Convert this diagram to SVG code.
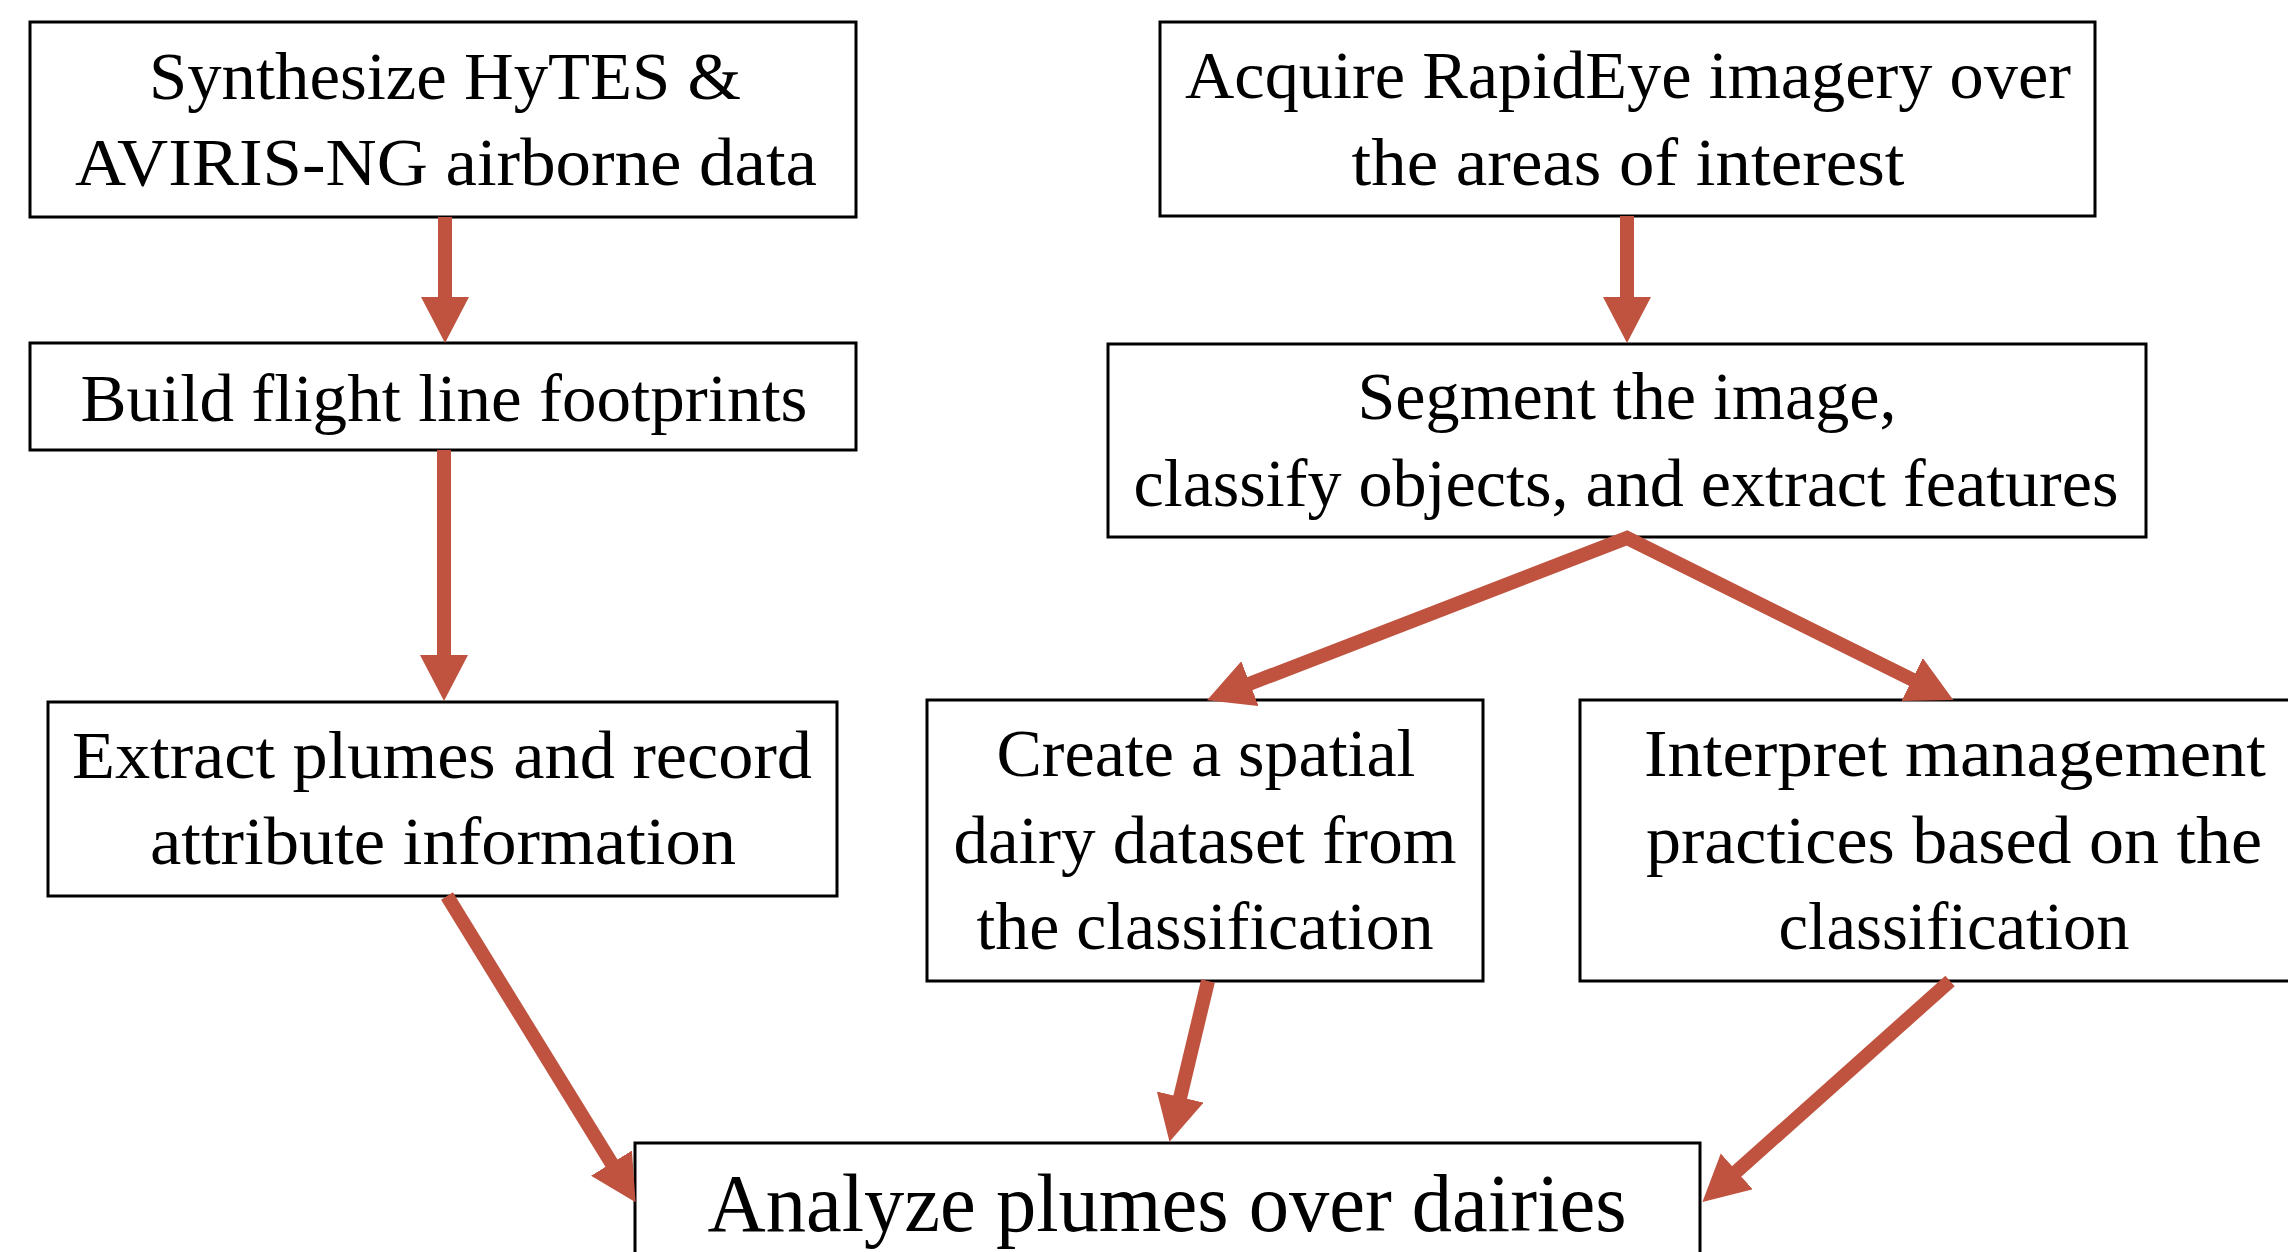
<svg xmlns="http://www.w3.org/2000/svg" width="2288" height="1252" viewBox="0 0 2288 1252">
  <style>
    .box { fill: #ffffff; stroke: #000000; stroke-width: 3; }
    .lbl { font-family: "Liberation Serif", "Times New Roman", serif; font-size: 67px; fill: #000000; text-anchor: middle; }
    .big { font-size: 82px; }
    .conn { fill: none; stroke: #C0533F; stroke-width: 14; stroke-linejoin: miter; stroke-miterlimit: 10; }
  </style>
  <defs>
    <marker id="head" markerUnits="userSpaceOnUse" markerWidth="50" markerHeight="50" refX="1" refY="24" orient="auto-start-reverse">
      <path d="M0,0 L46,24 L0,48 z" fill="#C0533F"/>
    </marker>
  </defs>

  <rect width="2288" height="1252" fill="#ffffff"/>

  <!-- left column -->
  <g id="node-synthesize">
    <rect class="box" x="30" y="22" width="826" height="195"/>
    <text class="lbl" x="445" y="99" textLength="592" lengthAdjust="spacingAndGlyphs">Synthesize HyTES &amp;</text>
    <text class="lbl" x="446" y="185" textLength="742" lengthAdjust="spacingAndGlyphs">AVIRIS-NG airborne data</text>
  </g>
  <g id="node-footprints">
    <rect class="box" x="30" y="343" width="826" height="107"/>
    <text class="lbl" x="444" y="421" textLength="727" lengthAdjust="spacingAndGlyphs">Build flight line footprints</text>
  </g>
  <g id="node-extract">
    <rect class="box" x="48" y="702" width="789" height="194"/>
    <text class="lbl" x="442" y="778" textLength="740" lengthAdjust="spacingAndGlyphs">Extract plumes and record</text>
    <text class="lbl" x="443" y="864" textLength="586" lengthAdjust="spacingAndGlyphs">attribute information</text>
  </g>

  <!-- right column -->
  <g id="node-acquire">
    <rect class="box" x="1160" y="22" width="935" height="194"/>
    <text class="lbl" x="1628" y="98" textLength="886" lengthAdjust="spacingAndGlyphs">Acquire RapidEye imagery over</text>
    <text class="lbl" x="1628" y="185" textLength="553" lengthAdjust="spacingAndGlyphs">the areas of  interest</text>
  </g>
  <g id="node-segment">
    <rect class="box" x="1108" y="344" width="1038" height="193"/>
    <text class="lbl" x="1627" y="419" textLength="539" lengthAdjust="spacingAndGlyphs">Segment the image,</text>
    <text class="lbl" x="1626" y="506" textLength="985" lengthAdjust="spacingAndGlyphs">classify objects, and extract features</text>
  </g>
  <g id="node-dataset">
    <rect class="box" x="927" y="700" width="556" height="281"/>
    <text class="lbl" x="1206" y="776" textLength="419" lengthAdjust="spacingAndGlyphs">Create a spatial</text>
    <text class="lbl" x="1205" y="863" textLength="503" lengthAdjust="spacingAndGlyphs">dairy dataset from</text>
    <text class="lbl" x="1205" y="949" textLength="457" lengthAdjust="spacingAndGlyphs">the classification</text>
  </g>
  <g id="node-interpret">
    <rect class="box" x="1580" y="700" width="760" height="281"/>
    <text class="lbl" x="1955" y="776" textLength="622" lengthAdjust="spacingAndGlyphs">Interpret management</text>
    <text class="lbl" x="1954" y="863" textLength="616" lengthAdjust="spacingAndGlyphs">practices based on the</text>
    <text class="lbl" x="1954" y="949" textLength="351" lengthAdjust="spacingAndGlyphs">classification</text>
  </g>

  <!-- bottom -->
  <g id="node-analyze">
    <rect class="box" x="635" y="1143" width="1065" height="130"/>
    <text class="lbl big" x="1167" y="1231" textLength="919" lengthAdjust="spacingAndGlyphs">Analyze plumes over dairies</text>
  </g>

  <!-- connectors -->
  <g id="connectors">
    <path class="conn" d="M445,217 L445,298" marker-end="url(#head)"/>
    <path class="conn" d="M444,450 L444,656" marker-end="url(#head)"/>
    <path class="conn" d="M447,896 L612,1164" marker-end="url(#head)"/>
    <path class="conn" d="M1627,216 L1627,298" marker-end="url(#head)"/>
    <path class="conn" d="M1249,684 L1627,538 L1913,680" marker-start="url(#head)" marker-end="url(#head)"/>
    <path class="conn" d="M1208,981 L1180,1098" marker-end="url(#head)"/>
    <path class="conn" d="M1950,981 L1736,1172" marker-end="url(#head)"/>
  </g>
</svg>
